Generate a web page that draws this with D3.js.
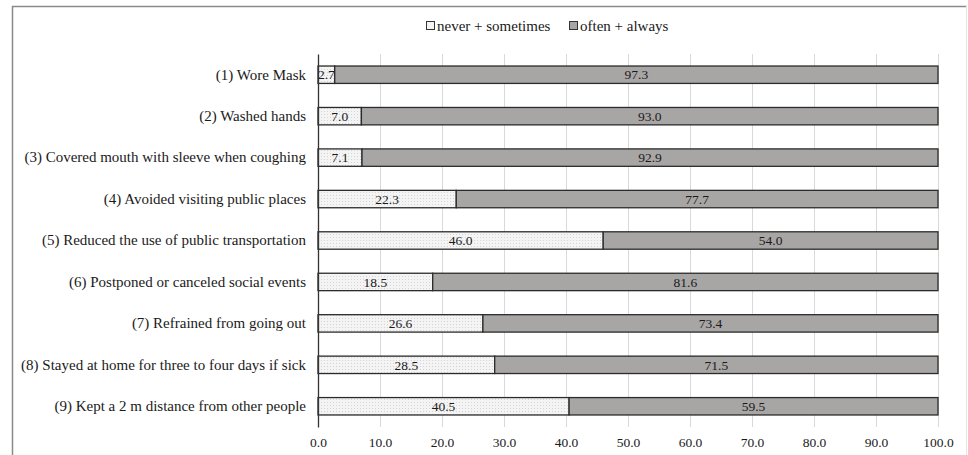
<!DOCTYPE html>
<html><head><meta charset="utf-8">
<script src="https://cdn.jsdelivr.net/npm/d3@7"></script>
<style>body{margin:0;background:#fff}svg{display:block}text{font-family:"Liberation Serif","Times New Roman",serif;fill:#1a1a1a}</style>
</head><body><svg id="c" width="968" height="455"></svg>
<script>
const categories = [
  "(1) Wore Mask",
  "(2) Washed hands",
  "(3) Covered mouth with sleeve when coughing",
  "(4) Avoided visiting public places",
  "(5) Reduced the use of public transportation",
  "(6) Postponed or canceled social events",
  "(7) Refrained from going out",
  "(8) Stayed at home for three to four days if sick",
  "(9) Kept a 2 m distance from other people"
];
const neverSometimes = [2.7, 7.0, 7.1, 22.3, 46.0, 18.5, 26.6, 28.5, 40.5];
const oftenAlways = [97.3, 93.0, 92.9, 77.7, 54.0, 81.6, 73.4, 71.5, 59.5];
const seriesNames = ["never + sometimes", "often + always"];
const xTicks = [0,10,20,30,40,50,60,70,80,90,100];

const svg = d3.select("#c");
// frame
svg.append("line").attr("x1",12).attr("x2",967).attr("y1",6.5).attr("y2",6.5).attr("stroke","#8a8a8a").attr("stroke-width",1.5);
svg.append("line").attr("x1",12.5).attr("x2",12.5).attr("y1",6).attr("y2",455).attr("stroke","#8a8a8a").attr("stroke-width",1.5);
svg.append("line").attr("x1",966.5).attr("x2",966.5).attr("y1",6).attr("y2",455).attr("stroke","#e6e6e6").attr("stroke-width",1);

const defs = svg.append("defs");
const pat = defs.append("pattern").attr("id","dots").attr("patternUnits","userSpaceOnUse").attr("width",3).attr("height",3);
pat.append("rect").attr("width",3).attr("height",3).attr("fill","#f4f4f4");
pat.append("rect").attr("x",0).attr("y",0).attr("width",1).attr("height",1).attr("fill","#d4d4d4");

const pLeft = 318, pRight = 938, pTop = 54, pBottom = 427;
const x = d3.scaleLinear().domain([0,100]).range([pLeft,pRight]).clamp(true);
const y = d3.scaleBand().domain(categories).range([pTop,pBottom]).paddingInner(0.58).paddingOuter(0.29);

// gridlines
svg.append("g").selectAll("line").data(xTicks.slice(1)).join("line")
  .attr("x1",d=>x(d)+0.5).attr("x2",d=>x(d)+0.5).attr("y1",pTop).attr("y2",pBottom)
  .attr("stroke","#d9d9d9").attr("stroke-width",1);

const data = categories.map((c,i)=>({cat:c, ns:neverSometimes[i], oa:oftenAlways[i]}));
const stack = d3.stack().keys(["ns","oa"])(data);
const fills = ["url(#dots)","#a8a5a5"];

stack.forEach((s,si)=>{
  svg.append("g").selectAll("rect").data(s).join("rect")
    .attr("x",d=>x(d[0])).attr("width",d=>x(d[1])-x(d[0]))
    .attr("y",d=>y(d.data.cat)).attr("height",y.bandwidth())
    .attr("fill",fills[si]).attr("stroke","#2b2b2b").attr("stroke-width",1.3);
  svg.append("g").selectAll("text").data(s).join("text")
    .attr("x",d=>(x(d[0])+x(d[1]))/2).attr("y",d=>y(d.data.cat)+y.bandwidth()/2)
    .attr("dy","0.35em").attr("text-anchor","middle").style("font-size","13.5px")
    .text(d=>d3.format(".1f")(d[1]-d[0]));
});

// y axis
const ya = svg.append("g").attr("transform",`translate(${pLeft},0)`)
  .call(d3.axisLeft(y).tickSize(0).tickPadding(12));
ya.select(".domain").attr("stroke","#333").attr("stroke-width",1.3);
ya.selectAll("text").style("font-size","15px").attr("fill","#1a1a1a");

// x axis
const xa = svg.append("g").attr("transform",`translate(0,${pBottom})`)
  .call(d3.axisBottom(x).tickValues(xTicks).tickFormat(d3.format(".1f")).tickSize(0).tickPadding(10));
xa.select(".domain").remove();
xa.selectAll("text").style("font-size","13.5px").attr("fill","#1a1a1a");

// legend
const lg = svg.append("g").attr("transform","translate(426,26)");
const lgX = [0,143];
seriesNames.forEach((n,i)=>{
  lg.append("rect").attr("x",lgX[i]+0.5).attr("y",-4.5).attr("width",8).attr("height",8)
    .attr("fill",i===0?"#f4f4f4":"#a8a5a5").attr("stroke","#333").attr("stroke-width",1);
  lg.append("text").attr("x",lgX[i]+11).attr("y",0).attr("dy","0.35em").style("font-size","15px").text(n);
});
</script></body></html>
